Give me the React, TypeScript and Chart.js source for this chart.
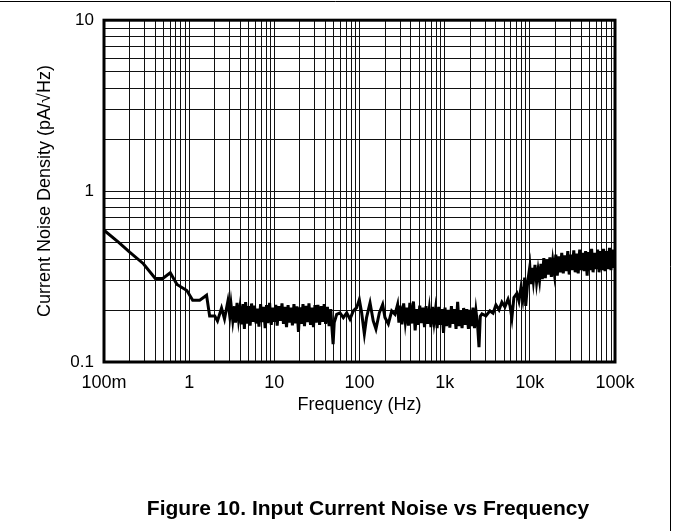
import React, { useEffect, useRef } from "react";
import { Chart, registerables } from "chart.js";
Chart.register(...registerables);

// Frequency (Hz) of each measured point
const freqHz = [
  0.1, 0.15, 0.2, 0.29, 0.4, 0.49, 0.6, 0.72, 0.94, 1.1, 1.33, 1.5, 1.6, 1.74, 2.0, 2.15, 2.4, 2.6, 2.85,
  3.0, 3.1, 3.25, 3.4, 3.5, 3.65, 3.8, 3.95, 4.1, 4.3, 4.45, 4.6, 4.8, 5.0, 5.2, 5.4, 5.6, 5.85, 6.1, 6.35,
  6.6, 6.9, 7.2, 7.5, 7.8, 8.1, 8.4, 8.8, 9.2, 9.6, 10, 10.4, 10.8, 11.3, 11.8, 12.3, 12.8, 13.3, 13.9, 14.5,
  15.1, 15.7, 16.3, 17, 17.7, 18.4, 19.2, 20, 20.8, 21.7, 22.6, 23.5, 24.5, 25.5, 26.6, 27.7, 28.8, 30,
  31, 32.5, 34, 35.5, 37, 38.5, 40, 42, 44, 46, 47.5, 49, 50.5,
  54, 59, 64.6, 70.8, 77.3, 84.6, 92.6, 99.5, 106, 114, 121, 133, 145, 156, 171, 187, 199, 218, 239, 261,
  280, 290, 300, 315, 330, 345, 360, 375, 390, 410, 430, 450, 470, 490, 510, 530, 555, 580, 605, 630, 660,
  690, 720, 750, 780, 815, 850, 890, 930, 970, 1010, 1050, 1100, 1150, 1200, 1250, 1300, 1360, 1420, 1480,
  1540, 1600, 1670, 1740, 1820, 1900, 1980, 2060, 2150, 2240, 2330, 2430, 2530, 2620,
  2740, 3050, 3400, 3700, 4000, 4350, 4700, 5100, 5550, 5850, 6150, 6500, 7050, 7450, 7850, 8250, 8700,
  8950, 9450, 10000, 10300,
  10600, 11000, 11500, 12000, 12500, 13000, 13500, 14000, 14600, 15200, 15800, 16500, 17200, 17900, 18600,
  19400, 20200, 21000, 21900, 22800, 23700, 24700, 25700, 26800, 27900, 29000, 30200, 31500, 32800, 34100,
  35500, 37000, 38500, 40100, 41700, 43400, 45200, 47100, 49000, 51000, 53100, 55300, 57600, 60000, 62500,
  65000, 67700, 70500, 73400, 76400, 79500, 82800, 86200, 89700, 93400, 97200, 100000,
];

// Current noise density (pA/√Hz) at each frequency
const noiseDensity = [
  0.59, 0.5, 0.44, 0.376, 0.308, 0.308, 0.333, 0.284, 0.262, 0.23, 0.23, 0.24, 0.246, 0.186, 0.186, 0.174, 0.207, 0.179, 0.227,
  0.185, 0.218, 0.175, 0.212, 0.17, 0.222, 0.178, 0.208, 0.166, 0.218, 0.156, 0.224, 0.168, 0.212, 0.163, 0.22, 0.172, 0.214, 0.168, 0.205,
  0.161, 0.218, 0.171, 0.21, 0.158, 0.215, 0.169, 0.222, 0.165, 0.208, 0.172, 0.216, 0.163, 0.212, 0.174, 0.22, 0.167, 0.21, 0.16, 0.215,
  0.17, 0.208, 0.164, 0.218, 0.168, 0.212, 0.15, 0.209, 0.167, 0.218, 0.162, 0.213, 0.171, 0.22, 0.165, 0.208, 0.16, 0.215,
  0.17, 0.216, 0.165, 0.212, 0.172, 0.218, 0.167, 0.21, 0.162, 0.204, 0.158, 0.127, 0.17,
  0.19, 0.194, 0.182, 0.194, 0.178, 0.199, 0.208, 0.232, 0.194, 0.146, 0.182, 0.222, 0.174, 0.156, 0.194, 0.217, 0.182, 0.167, 0.199, 0.19,
  0.217, 0.17, 0.214, 0.166, 0.22, 0.172, 0.208, 0.163, 0.222, 0.168, 0.226, 0.153, 0.204, 0.165, 0.214, 0.169, 0.208, 0.16, 0.212, 0.167, 0.204,
  0.16, 0.21, 0.172, 0.202, 0.158, 0.21, 0.165, 0.204, 0.148, 0.208, 0.162, 0.202, 0.159, 0.212, 0.167, 0.204, 0.156, 0.225, 0.162,
  0.2, 0.158, 0.207, 0.165, 0.204, 0.156, 0.202, 0.162, 0.208, 0.158, 0.199, 0.167, 0.122, 0.185,
  0.191, 0.186, 0.199, 0.193, 0.216, 0.202, 0.224, 0.21, 0.233, 0.213, 0.181, 0.238, 0.252, 0.227, 0.27, 0.233, 0.312,
  0.213, 0.296, 0.361, 0.285,
  0.355, 0.297, 0.37, 0.292, 0.345, 0.3, 0.375, 0.305, 0.405, 0.31, 0.395, 0.325, 0.41, 0.315, 0.39,
  0.33, 0.425, 0.32, 0.415, 0.335, 0.435, 0.33, 0.42, 0.34, 0.445, 0.325, 0.425, 0.345, 0.45, 0.335,
  0.43, 0.33, 0.455, 0.345, 0.435, 0.34, 0.445, 0.32, 0.44, 0.345, 0.46, 0.335, 0.435, 0.35, 0.455,
  0.335, 0.445, 0.345, 0.46, 0.34, 0.445, 0.35, 0.465, 0.345, 0.455, 0.355, 0.42,
];

const xDecades = [0.1, 1, 10, 100, 1000, 10000, 100000];
const xTickLabels = ["100m", "1", "10", "100", "1k", "10k", "100k"];
const yDecades = [0.1, 1, 10];
const yTickLabels = ["0.1", "1", "10"];
const xTitle = "Frequency (Hz)";
const yTitle = "Current Noise Density (pA/\u221AHz)";
const caption = "Figure 10. Input Current Noise vs Frequency";

const FONT = '"Liberation Sans", Arial, Helvetica, sans-serif';

function logGrid(decades: number[]) {
  const out: { value: number }[] = [];
  for (let i = 0; i < decades.length - 1; i++) {
    for (let k = 1; k < 10; k++) out.push({ value: decades[i] * k });
  }
  out.push({ value: decades[decades.length - 1] });
  return out;
}

function labelFor(v: number, values: number[], labels: string[]) {
  const i = values.findIndex((t) => Math.abs(Math.log10(t) - Math.log10(v)) < 1e-6);
  return i >= 0 ? labels[i] : "";
}

const decorPlugin = {
  id: "decor",
  afterDatasetsDraw(chart: any) {
    const { ctx, chartArea: a } = chart;
    ctx.save();
    ctx.strokeStyle = "#000";
    ctx.lineWidth = 3;
    ctx.strokeRect(a.left, a.top, a.right - a.left, a.bottom - a.top);
    ctx.restore();
  },
  afterDraw(chart: any) {
    const { ctx, height } = chart;
    ctx.save();
    ctx.strokeStyle = "#000";
    ctx.lineWidth = 1;
    ctx.beginPath();
    ctx.moveTo(0, 1.5);
    ctx.lineTo(670.5, 1.5);
    ctx.lineTo(670.5, height);
    ctx.stroke();
    ctx.font = `bold 21px ${FONT}`;
    ctx.fillStyle = "#000";
    ctx.textAlign = "center";
    ctx.textBaseline = "alphabetic";
    ctx.fillText(caption, 368, 515);
    ctx.restore();
  },
};

export default function App() {
  const ref = useRef<HTMLCanvasElement | null>(null);
  useEffect(() => {
    if (!ref.current) return;
    const chart = new Chart(ref.current, {
      type: "line",
      data: {
        datasets: [
          {
            data: freqHz.map((f, i) => ({ x: f, y: noiseDensity[i] })),
            borderColor: "#000",
            borderWidth: 3,
            pointRadius: 0,
            tension: 0,
            fill: false,
          },
        ],
      },
      options: {
        responsive: false,
        animation: false,
        devicePixelRatio: 1,
        layout: { padding: { left: 0, right: 58, top: 14, bottom: 0 } },
        plugins: { legend: { display: false }, tooltip: { enabled: false }, title: { display: false } },
        scales: {
          x: {
            type: "logarithmic",
            min: 0.1,
            max: 100000,
            afterBuildTicks: (s: any) => {
              s.ticks = logGrid(xDecades);
            },
            afterFit: (s: any) => {
              s.height = 169;
            },
            grid: { color: "#111", lineWidth: 1, drawTicks: false },
            border: { display: false },
            ticks: {
              autoSkip: false,
              maxRotation: 0,
              padding: 10,
              color: "#000",
              font: { family: FONT, size: 18 },
              callback: (v: any) => labelFor(Number(v), xDecades, xTickLabels),
            },
            title: {
              display: true,
              text: xTitle,
              color: "#000",
              font: { family: FONT, size: 18 },
              padding: { top: 0, bottom: 115 },
            },
          },
          y: {
            type: "logarithmic",
            min: 0.1,
            max: 10,
            afterBuildTicks: (s: any) => {
              s.ticks = logGrid(yDecades);
            },
            afterFit: (s: any) => {
              s.width = 104;
            },
            grid: { color: "#111", lineWidth: 1, drawTicks: false },
            border: { display: false },
            ticks: {
              autoSkip: false,
              padding: 10,
              color: "#000",
              font: { family: FONT, size: 17 },
              callback: (v: any) => labelFor(Number(v), yDecades, yTickLabels),
            },
            title: {
              display: true,
              text: yTitle,
              color: "#000",
              font: { family: FONT, size: 18 },
              padding: { top: 34, bottom: 0 },
            },
          },
        },
      },
      plugins: [decorPlugin],
    } as any);
    return () => chart.destroy();
  }, []);
  return (
    <div style={{ position: "absolute", left: 0, top: 0, width: 673, height: 531, background: "#fff" }}>
      <canvas ref={ref} width={673} height={531} style={{ display: "block" }} />
    </div>
  );
}
